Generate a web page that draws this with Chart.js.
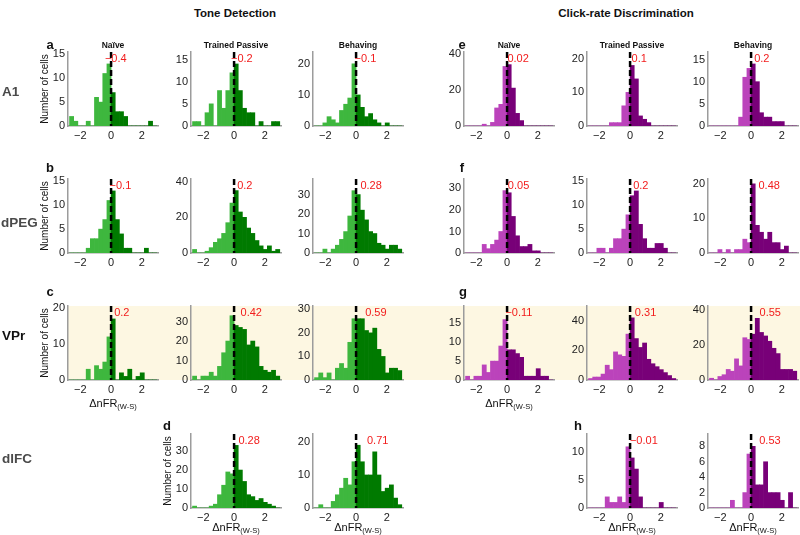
<!DOCTYPE html>
<html>
<head>
<meta charset="utf-8">
<script src="https://cdn.jsdelivr.net/npm/chart.js@4.4.1/dist/chart.umd.min.js"></script>
<style>
  body { margin: 0; background: #fff; font-family: "Liberation Sans", Arial, sans-serif; }
  #fig { position: relative; width: 800px; height: 535px; overflow: hidden; }
  #fig canvas { position: absolute; z-index: 2; }
  .lbl { position: absolute; white-space: nowrap; color: #111; transform: translate(-50%, -50%); z-index: 3; }
  .head { font-weight: bold; font-size: 11.5px; }
  .sub { font-weight: bold; font-size: 8.5px; }
  .letter { font-weight: bold; font-size: 13px; }
  .row { font-weight: bold; font-size: 13.5px; color: #4a4a4a; transform: translate(0, -50%); }
  .ylab { font-size: 10px; transform: translate(-50%, -50%) rotate(-90deg); }
  .xlab { font-size: 11px; }
  .xlab sub { font-size: 7.5px; vertical-align: -2px; }
  #band { position: absolute; left: 68px; top: 306px; width: 732px; height: 74px; background: #fdf7e2; z-index: 1; }
</style>
</head>
<body>
<div id="fig"><div id="band"></div></div>
<script>
// --- histogram bins (centres of the ΔnFR bins) ---
const binCenters = [-2.565, -2.295, -2.025, -1.755, -1.485, -1.215, -0.945, -0.675, -0.405, -0.135,
                    0.135, 0.405, 0.675, 0.945, 1.215, 1.485, 1.755, 2.025, 2.295, 2.565, 2.835];
const xTicks = [-2, 0, 2];

// --- A1 ---
const a1ToneNaive     = [2,1,0,0,1,0,6,5,11,13, 7,3,3,2,0,0,0,0,0,1,0];
const a1TonePassive   = [1,1,0,3,5,0,8,4,8,12, 14,8,4,3,3,0,1,0,0,1,1];
const a1ToneBehaving  = [0,0,1,3,2,1,5,7,9,20, 10,6,3,4,2,1,0,1,0,0,0];
const a1ClickNaive    = [0,0,0,0,1,0,2,10,12,33, 34,21,7,3,0,0,0,0,0,0,0];
const a1ClickPassive  = [0,0,0,0,0,1,1,1,6,10, 18,14,3,2,1,0,0,0,0,0,0];
const a1ClickBehaving = [0,0,0,0,0,0,0,2,11,13, 14,10,3,2,2,1,1,1,0,0,0];
const a1Medians = [-0.4, -0.2, -0.1, 0.02, 0.1, 0.2];
const a1YMax = [15.5, 16.7, 23.8, 41, 22, 16.7];
const a1YTicks = [[0,5,10,15], [0,5,10,15], [0,10,20], [0,20,40], [0,10,20], [0,5,10,15]];

// --- dPEG ---
const dpegToneNaive     = [0,0,0,0,1,3,3,5,7,11, 13,7,4,1,1,0,0,0,1,0,0];
const dpegTonePassive   = [2,0,0,1,3,6,8,11,17,28, 35,23,20,14,11,7,4,2,4,1,2];
const dpegToneBehaving  = [0,0,2,0,2,4,7,11,19,32, 30,22,17,11,10,5,4,2,4,4,2];
const dpegClickNaive    = [0,0,0,0,4,2,4,6,10,29, 28,17,8,3,3,4,1,1,0,0,0];
const dpegClickPassive  = [0,0,1,1,0,1,3,3,5,8, 12,13,6,3,1,1,2,2,1,0,0];
const dpegClickBehaving = [0,0,1,0,1,0,1,1,4,3, 20,8,6,4,6,3,3,1,2,0,0];
const dpegMedians = [-0.1, 0.2, 0.28, 0.05, 0.2, 0.48];
const dpegYMax = [15.5, 41.5, 38, 34.4, 15.5, 21.4];
const dpegYTicks = [[0,5,10,15], [0,20,40], [0,10,20,30], [0,10,20,30], [0,5,10,15], [0,10,20]];

// --- VPr ---
const vprToneNaive     = [0,0,0,0,3,0,4,3,5,12, 17,0,2,1,3,0,1,2,0,0,0];
const vprTonePassive   = [2,0,2,2,4,2,7,14,20,33, 28,27,26,18,20,17,7,5,4,5,2];
const vprToneBehaving  = [1,3,1,3,0,5,7,5,16,26, 26,26,21,20,22,13,10,3,5,5,4];
const vprClickNaive    = [1,0,1,1,4,2,5,5,9,16, 8,8,7,6,1,1,1,3,1,1,0];
const vprClickPassive  = [1,2,2,4,10,7,19,17,16,31, 42,28,22,25,14,11,9,7,5,3,1];
const vprClickBehaving = [1,0,2,3,6,5,12,8,24,23, 26,35,27,25,22,18,15,6,6,6,5];
const vprMedians = [0.2, 0.42, 0.59, -0.11, 0.31, 0.55];
const vprYMax = [20.6, 38, 31.4, 19.6, 50, 42];
const vprYTicks = [[0,10,20], [0,10,20,30], [0,10,20,30], [0,5,10,15], [0,20,40], [0,20,40]];

// --- dlFC (no naive recordings) ---
const dlfcTonePassive   = [1,0,0,0,1,2,7,12,19,18, 33,20,14,7,6,4,5,3,2,1,0];
const dlfcToneBehaving  = [0,1,0,0,2,4,6,9,7,14, 19,14,10,10,17,10,5,6,7,3,1];
const dlfcClickPassive  = [0,0,0,0,2,1,1,2,1,11, 9,7,2,0,0,0,0,1,0,0,0];
const dlfcClickBehaving = [0,0,0,0,0,1,0,0,2,7, 8,3,3,6,2,2,2,1,0,2,0];
const dlfcMedians = [null, 0.28, 0.71, null, -0.01, 0.53];
const dlfcYMax = [null, 39, 22.4, null, 13.3, 9.6];
const dlfcYTicks = [null, [0,10,20,30], [0,10,20], null, [0,5,10], [0,2,4,6,8]];

const rows = [
  { series: [a1ToneNaive, a1TonePassive, a1ToneBehaving, a1ClickNaive, a1ClickPassive, a1ClickBehaving], medians: a1Medians, yMax: a1YMax, yTicks: a1YTicks },
  { series: [dpegToneNaive, dpegTonePassive, dpegToneBehaving, dpegClickNaive, dpegClickPassive, dpegClickBehaving], medians: dpegMedians, yMax: dpegYMax, yTicks: dpegYTicks },
  { series: [vprToneNaive, vprTonePassive, vprToneBehaving, vprClickNaive, vprClickPassive, vprClickBehaving], medians: vprMedians, yMax: vprYMax, yTicks: vprYTicks },
  { series: [null, dlfcTonePassive, dlfcToneBehaving, null, dlfcClickPassive, dlfcClickBehaving], medians: dlfcMedians, yMax: dlfcYMax, yTicks: dlfcYTicks }
];

// layout of the plot boxes
const colLeft = [68, 191, 313, 464, 587, 708];
const rowTop = [52, 179, 306, 434];
const PW = 90, PH = 74;

const fig = document.getElementById('fig');
const tickFont = { family: '"Liberation Sans", Arial, sans-serif', size: 11 };
const fmt = v => (v < 0 ? '\u2212' + Math.abs(v) : String(v));

function zeroLine(median) {
  return {
    id: 'zeroLine',
    afterDatasetsDraw(chart) {
      const { ctx, chartArea, scales } = chart;
      const x0 = scales.x.getPixelForValue(0);
      ctx.save();
      ctx.strokeStyle = '#000';
      ctx.lineWidth = 2.5;
      ctx.setLineDash([6, 3]);
      ctx.beginPath();
      ctx.moveTo(x0, chartArea.top);
      ctx.lineTo(x0, chartArea.bottom);
      ctx.stroke();
      ctx.setLineDash([]);
      ctx.fillStyle = '#f21c1c';
      ctx.font = '11px "Liberation Sans", Arial, sans-serif';
      ctx.textBaseline = 'middle';
      ctx.textAlign = 'left';
      ctx.fillText(fmt(median), scales.x.getPixelForValue(median), chartArea.top + 7);
      ctx.restore();
    }
  };
}

function makePanel(counts, median, yMax, yTicks, col, row) {
  const purple = col >= 3;
  const light = purple ? '#bb43bb' : '#3eb73e';
  const dark = purple ? '#780078' : '#007a00';
  const cv = document.createElement('canvas');
  cv.width = 28 + PW + 4;
  cv.height = 12 + PH + 18;
  cv.style.left = (colLeft[col] - 28) + 'px';
  cv.style.top = (rowTop[row] - 12) + 'px';
  fig.appendChild(cv);

  new Chart(cv, {
    type: 'bar',
    data: {
      datasets: [{
        data: binCenters.map((c, i) => ({ x: c, y: counts[i] })),
        backgroundColor: ctx => (ctx.raw && ctx.raw.x < 0 ? light : dark),
        barPercentage: 1,
        categoryPercentage: 1,
        borderWidth: 0
      }]
    },
    options: {
      responsive: false,
      animation: false,
      devicePixelRatio: 1,
      layout: { padding: { top: 12, right: 4, left: 0, bottom: 0 } },
      plugins: { legend: { display: false }, tooltip: { enabled: false } },
      scales: {
        x: {
          type: 'linear', min: -2.8, max: 3.05, offset: false,
          grid: { display: false, drawTicks: false },
          border: { color: '#9c9c9c', width: 1.5 },
          afterBuildTicks: s => { s.ticks = xTicks.map(v => ({ value: v })); },
          ticks: { callback: fmt, font: tickFont, color: '#222', padding: 3, maxRotation: 0, autoSkip: false },
          afterFit: s => { s.height = 18; }
        },
        y: {
          min: 0, max: yMax,
          grid: { display: false, drawTicks: false },
          border: { color: '#9c9c9c', width: 1.5 },
          afterBuildTicks: s => { s.ticks = yTicks.map(v => ({ value: v })); },
          ticks: { font: tickFont, color: '#222', padding: 3, autoSkip: false },
          afterFit: s => { s.width = 28; }
        }
      }
    },
    plugins: [zeroLine(median)]
  });
}

rows.forEach((r, ri) => {
  r.series.forEach((counts, ci) => {
    if (counts) makePanel(counts, r.medians[ci], r.yMax[ci], r.yTicks[ci], ci, ri);
  });
});

// --- text around the panels ---
function label(cls, html, x, y) {
  const d = document.createElement('div');
  d.className = 'lbl ' + cls;
  d.innerHTML = html;
  d.style.left = x + 'px';
  d.style.top = y + 'px';
  fig.appendChild(d);
  return d;
}

label('head', 'Tone Detection', 235, 13);
label('head', 'Click-rate Discrimination', 626, 13);
['Naïve', 'Trained Passive', 'Behaving', 'Naïve', 'Trained Passive', 'Behaving']
  .forEach((t, i) => label('sub', t, colLeft[i] + PW / 2, 45));

[['a', 50, 44], ['b', 50, 167], ['c', 50, 291], ['d', 167, 425],
 ['e', 462, 44], ['f', 462, 167], ['g', 463, 291], ['h', 578, 425]]
  .forEach(([t, x, y]) => label('letter', t, x, y));

label('row', 'A1', 2, 91);
label('row', 'dPEG', 1, 222);
label('row', 'VPr', 2, 335).style.color = '#111';
label('row', 'dlFC', 2, 458);

[[0, 0], [0, 1], [0, 2], [1, 3]].forEach(([c, r]) =>
  label('ylab', 'Number of cells', colLeft[c] - 24, rowTop[r] + PH / 2));

const xl = 'ΔnFR<sub>(W-S)</sub>';
[[0, 404], [3, 404], [1, 528], [2, 528], [4, 528], [5, 528]].forEach(([c, y]) =>
  label('xlab', xl, colLeft[c] + PW / 2, y));
</script>
</body>
</html>
